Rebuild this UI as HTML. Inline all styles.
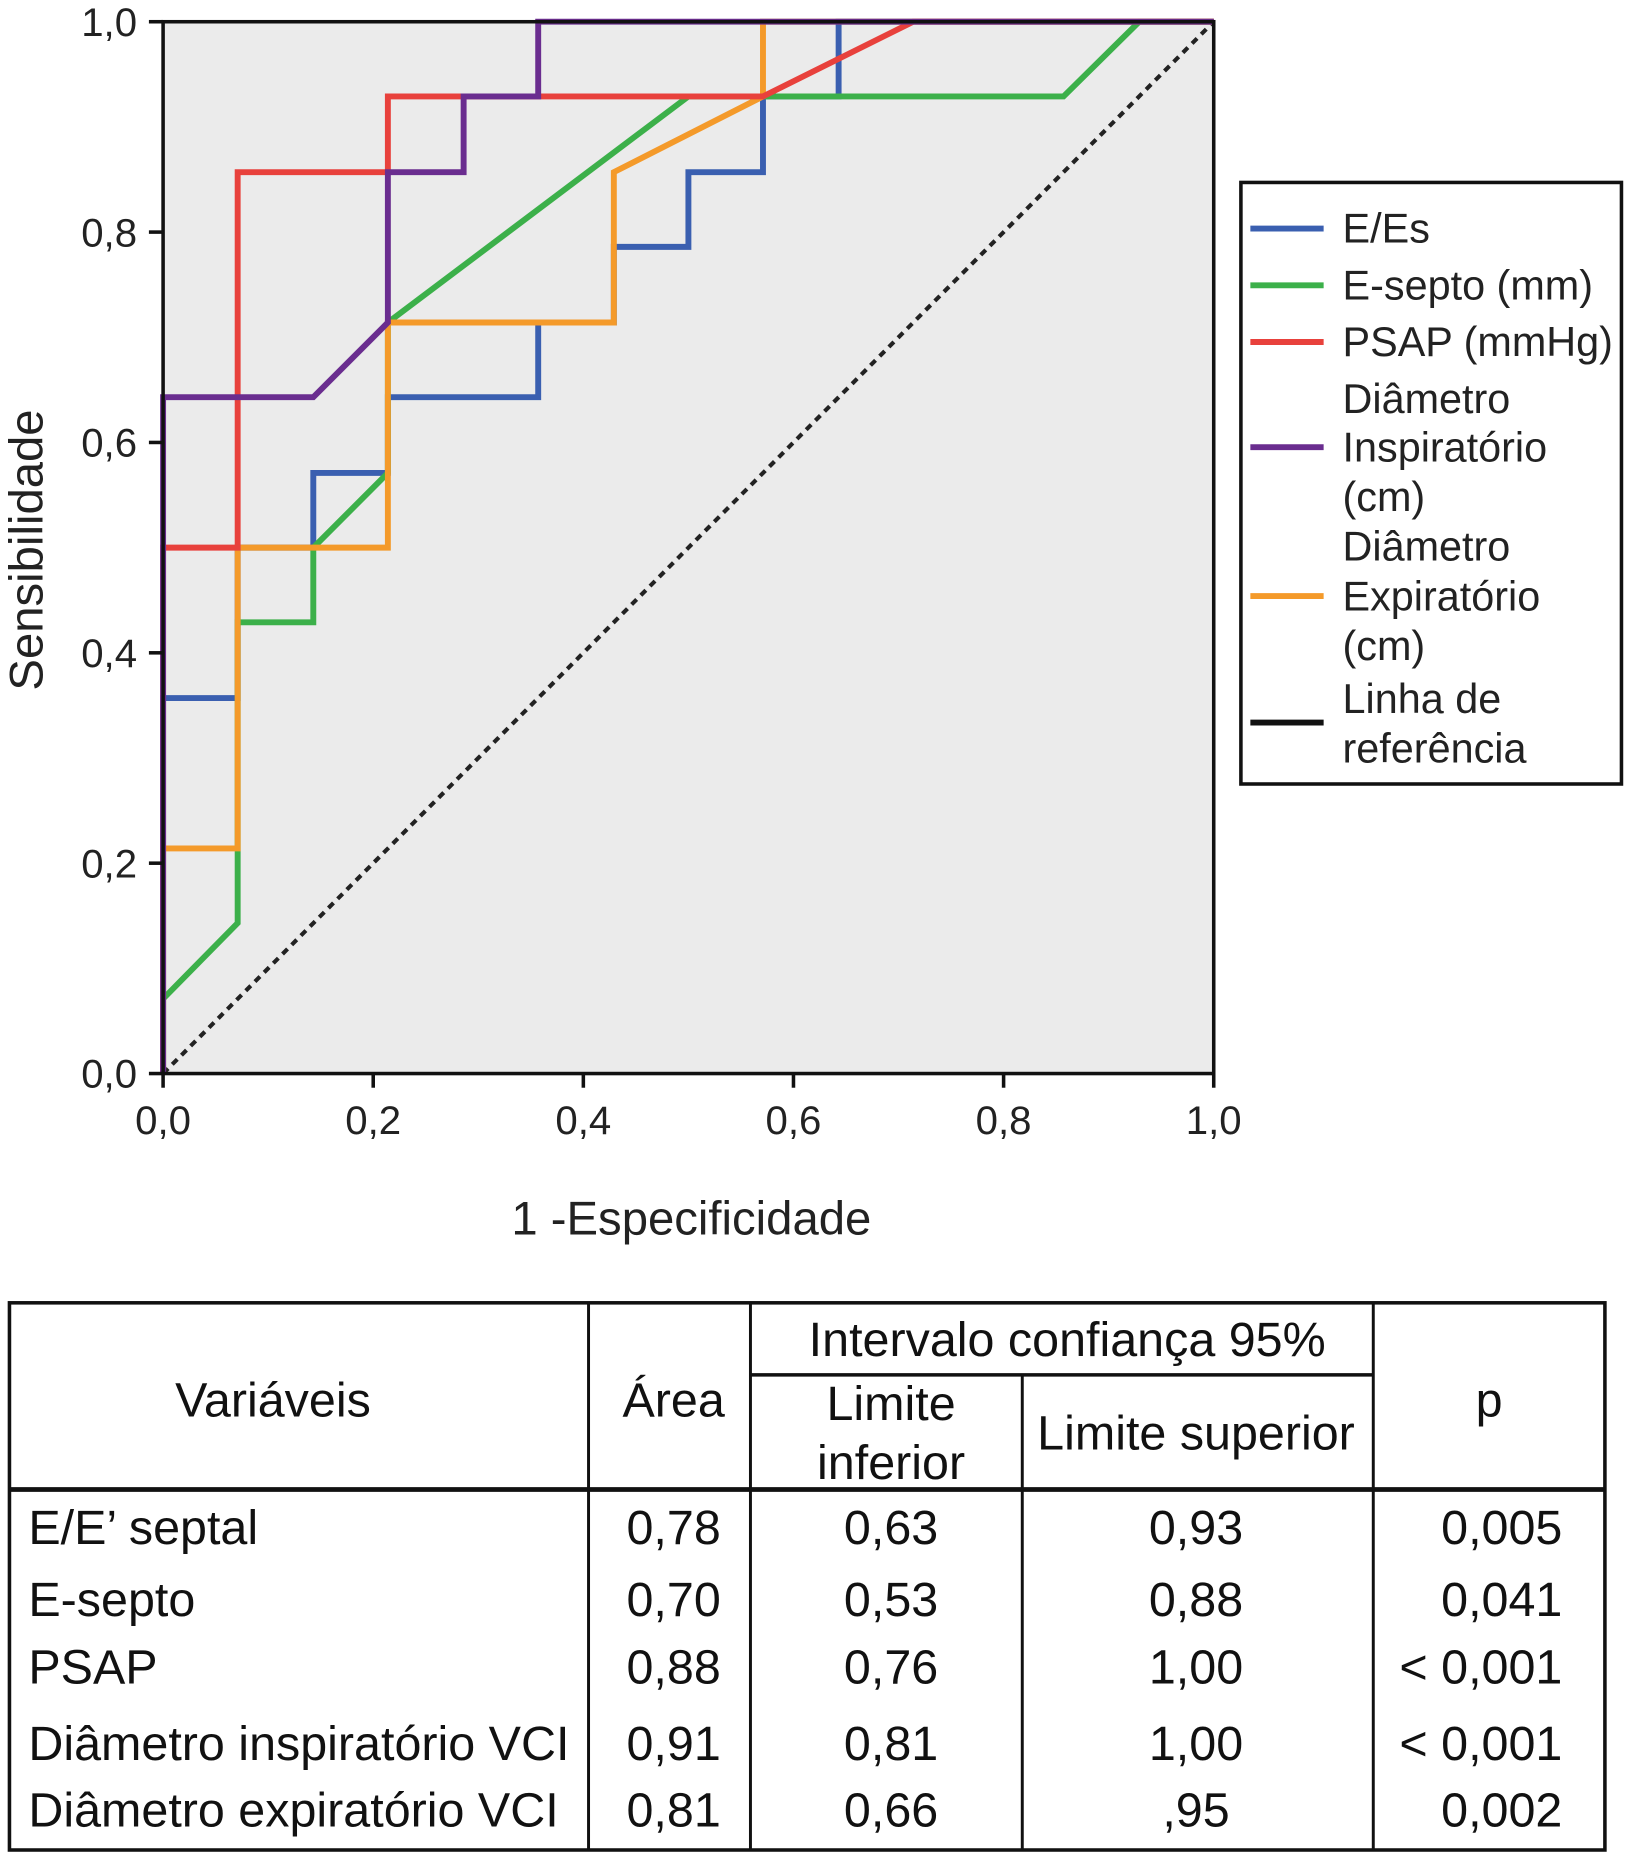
<!DOCTYPE html>
<html><head><meta charset="utf-8">
<style>
html,body{margin:0;padding:0;background:#fff;}
svg{display:block;font-family:"Liberation Sans",Arial,sans-serif;}
</style></head>
<body>
<svg id="chart" width="1625" height="1854" viewBox="0 0 1375 1568" xmlns="http://www.w3.org/2000/svg">
<rect x="0" y="0" width="1375" height="1568" fill="#fff"/>
<rect x="138" y="18" width="889" height="890" fill="#ebebeb"/>
<g id="series"></g>
<rect x="138" y="18" width="889" height="890" fill="none" stroke="#111" stroke-width="3"/>
<g id="axes" font-size="34" fill="#222"></g>
<text x="0" y="0" transform="translate(36,465) rotate(-90)" text-anchor="middle" font-size="40" fill="#222">Sensibilidade</text>
<text x="585" y="1044" text-anchor="middle" font-size="40" fill="#222">1 -Especificidade</text>

<g font-size="35" fill="#222">
<rect x="1050" y="154" width="322" height="509" fill="#fff" stroke="#111" stroke-width="3"/>
<line x1="1058" y1="193" x2="1120" y2="193" stroke="#3a5fb0" stroke-width="5"/>
<text x="1136" y="205">E/Es</text>
<line x1="1058" y1="241" x2="1120" y2="241" stroke="#3cb04a" stroke-width="5"/>
<text x="1136" y="253">E-septo (mm)</text>
<line x1="1058" y1="289" x2="1120" y2="289" stroke="#e8413c" stroke-width="5"/>
<text x="1136" y="301">PSAP (mmHg)</text>
<line x1="1058" y1="378" x2="1120" y2="378" stroke="#6a2d8f" stroke-width="5"/>
<text x="1136" y="349">Diâmetro</text>
<text x="1136" y="390">Inspiratório</text>
<text x="1136" y="432">(cm)</text>
<line x1="1058" y1="504" x2="1120" y2="504" stroke="#f49a2a" stroke-width="5"/>
<text x="1136" y="474">Diâmetro</text>
<text x="1136" y="516">Expiratório</text>
<text x="1136" y="558">(cm)</text>
<line x1="1058" y1="611" x2="1120" y2="611" stroke="#111" stroke-width="5"/>
<text x="1136" y="603">Linha de</text>
<text x="1136" y="645">referência</text>
</g>

<g font-size="41" fill="#111" stroke="none">
<rect x="8" y="1102" width="1350" height="463" fill="none" stroke="#111" stroke-width="3"/>
<line x1="8" y1="1260" x2="1358" y2="1260" stroke="#111" stroke-width="4"/>
<line x1="498" y1="1102" x2="498" y2="1565" stroke="#111" stroke-width="2.5"/>
<line x1="635" y1="1102" x2="635" y2="1565" stroke="#111" stroke-width="2.5"/>
<line x1="865" y1="1163" x2="865" y2="1565" stroke="#111" stroke-width="2.5"/>
<line x1="1162" y1="1102" x2="1162" y2="1565" stroke="#111" stroke-width="2.5"/>
<line x1="635" y1="1163" x2="1162" y2="1163" stroke="#111" stroke-width="3"/>
<g text-anchor="middle">
<text x="231" y="1198">Variáveis</text>
<text x="570" y="1198">Área</text>
<text x="903" y="1147">Intervalo confiança 95%</text>
<text x="754" y="1201">Limite</text>
<text x="754" y="1251">inferior</text>
<text x="1012" y="1226">Limite superior</text>
<text x="1260" y="1198">p</text>
</g>
<g id="rows"></g>
</g>
</svg>
<script>
const NS='http://www.w3.org/2000/svg';
// ---- chart data ----
const xTicks=[0,0.2,0.4,0.6,0.8,1.0];
const yTicks=[0,0.2,0.4,0.6,0.8,1.0];
const tickLabels=['0,0','0,2','0,4','0,6','0,8','1,0'];
const seriesNames=['E/Es','E-septo (mm)','PSAP (mmHg)','Diâmetro Inspiratório (cm)','Diâmetro Expiratório (cm)'];
const fprEEs=[0,0,0.071,0.071,0.143,0.143,0.214,0.214,0.357,0.357,0.429,0.429,0.5,0.5,0.571,0.571,0.643,0.643,1];
const tprEEs=[0,0.357,0.357,0.5,0.5,0.571,0.571,0.643,0.643,0.714,0.714,0.786,0.786,0.857,0.857,0.929,0.929,1,1];
const fprSepto=[0,0,0.071,0.071,0.143,0.143,0.214,0.214,0.5,0.857,0.929,1];
const tprSepto=[0,0.071,0.143,0.429,0.429,0.5,0.571,0.714,0.929,0.929,1,1];
const fprPsap=[0,0,0.071,0.071,0.214,0.214,0.571,0.714,1];
const tprPsap=[0,0.5,0.5,0.857,0.857,0.929,0.929,1,1];
const fprInsp=[0,0,0.143,0.214,0.214,0.286,0.286,0.357,0.357,1];
const tprInsp=[0,0.643,0.643,0.714,0.857,0.857,0.929,0.929,1,1];
const fprExp=[0,0,0.071,0.071,0.214,0.214,0.429,0.429,0.571,0.571,1];
const tprExp=[0,0.214,0.214,0.5,0.5,0.714,0.714,0.857,0.929,1,1];
// ---- table data ----
const rowNames=['E/E’ septal','E-septo','PSAP','Diâmetro inspiratório VCI','Diâmetro expiratório VCI'];
const areaVals=['0,78','0,70','0,88','0,91','0,81'];
const lowerVals=['0,63','0,53','0,76','0,81','0,66'];
const upperVals=['0,93','0,88','1,00','1,00',',95'];
const pVals=['0,005','0,041','< 0,001','< 0,001','0,002'];

const X0=138,X1=1027,Y0=908,Y1=18;
const sx=v=>X0+v*(X1-X0);
const sy=v=>Y0-v*(Y0-Y1);
function mk(tag,attrs,parent){const e=document.createElementNS(NS,tag);for(const k in attrs)e.setAttribute(k,attrs[k]);parent.appendChild(e);return e;}

const sg=document.getElementById('series');
const ref=mk('line',{x1:sx(0),y1:sy(0),x2:sx(1),y2:sy(1),stroke:'#222','stroke-width':3.5,'stroke-dasharray':'6,5'},sg);


const S=[[fprEEs,tprEEs,'#3a5fb0','curve-e-es'],[fprSepto,tprSepto,'#3cb04a','curve-e-septo'],[fprPsap,tprPsap,'#e8413c','curve-psap'],[fprExp,tprExp,'#f49a2a','curve-diam-exp'],[fprInsp,tprInsp,'#6a2d8f','curve-diam-insp']];
const order=[0,1,3,2,4];
order.forEach(i=>{
  const [xs,ys,c,n]=S[i];
  const pts=xs.map((x,j)=>sx(x).toFixed(1)+','+sy(ys[j]).toFixed(1)).join(' ');
  const p=mk('polyline',{points:pts,fill:'none',stroke:c,'stroke-width':5,'stroke-linejoin':'miter'},sg);
  
  
});

const ax=document.getElementById('axes');
xTicks.forEach((t,i)=>{
  const l=mk('line',{x1:sx(t),y1:Y0,x2:sx(t),y2:Y0+12,stroke:'#111','stroke-width':3},ax);
  
  
  const tx=mk('text',{x:sx(t),y:959,'text-anchor':'middle'},ax);
  tx.textContent=tickLabels[i];
  
  
});
yTicks.forEach((t,i)=>{
  const l=mk('line',{x1:X0-12,y1:sy(t),x2:X0,y2:sy(t),stroke:'#111','stroke-width':3},ax);
  
  
  const tx=mk('text',{x:116,y:sy(t)+12,'text-anchor':'end'},ax);
  tx.textContent=tickLabels[i];
  
  
});

const rg=document.getElementById('rows');
const rowY=[1306,1367,1424,1489,1545];
rowNames.forEach((n,i)=>{
  const y=rowY[i];
  const cells=[[n,24,'start'],[areaVals[i],570,'middle'],[lowerVals[i],754,'middle'],[upperVals[i],1012,'middle'],[pVals[i],1322,'end']];
  cells.forEach((c,k)=>{
    const t=mk('text',{x:c[1],y:y,'text-anchor':c[2]},rg);
    t.textContent=c[0];
    
    
  });
});
</script>
</body></html>
